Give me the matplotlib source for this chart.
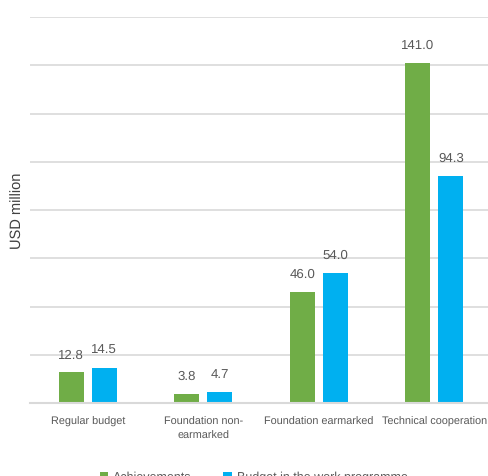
import numpy as np
import matplotlib.pyplot as plt

plt.rcParams['font.family'] = ['Liberation Sans', 'DejaVu Sans']
plt.rcParams['text.hinting'] = 'no_hinting'

categories = ['Regular budget', 'Foundation non-\nearmarked', 'Foundation earmarked', 'Technical cooperation']
achievements = [12.8, 3.8, 46.0, 141.0]
budget = [14.5, 4.7, 54.0, 94.3]

green = '#70ad47'
blue = '#00b0f0'
txt = '#595959'

fig = plt.figure(figsize=(4.88, 4.77), dpi=100)
ax = fig.add_axes([0.0615, 0.153, 0.947, 0.809])

x = np.arange(len(categories))
w = 0.217
off = 0.143
b1 = ax.bar(x - off, achievements, w, color=green, label='Achievements')
b2 = ax.bar(x + off, budget, w, color=blue, label='Budget in the work programme')

for bars, vals in ((b1, achievements), (b2, budget)):
    for r, v in zip(bars, vals):
        ax.text(r.get_x() + r.get_width() / 2, v + 5, f'{v:.1f}', ha='center', va='bottom',
                fontsize=9.5, color=txt)

ax.set_xlim(-0.5, 3.5)
ax.set_ylim(0, 160)
ax.set_yticks(np.arange(0, 161, 20))
ax.set_yticklabels([])
ax.tick_params(axis='y', length=0)
ax.tick_params(axis='x', length=0, labelsize=7.8, labelcolor=txt, pad=9)
ax.set_xticks(x)
ax.set_xticklabels(categories, linespacing=1.5)
ax.grid(axis='y', color='#d9d9d9', linewidth=1.2)
ax.set_axisbelow(True)
for s in ['top', 'right', 'left']:
    ax.spines[s].set_visible(False)
ax.spines['bottom'].set_color('#d9d9d9')
ax.spines['bottom'].set_linewidth(1.5)

ax.set_ylabel('USD million', fontsize=10.5, color='#404040', labelpad=0)

fig.legend(handles=[b1, b2], loc='center', bbox_to_anchor=(0.52, -0.002), ncol=2, frameon=False,
           fontsize=9, labelcolor=txt, handlelength=0.7, handleheight=0.7, columnspacing=2.5,
           handletextpad=0.4)

fig.savefig('out.png', dpi=100)
